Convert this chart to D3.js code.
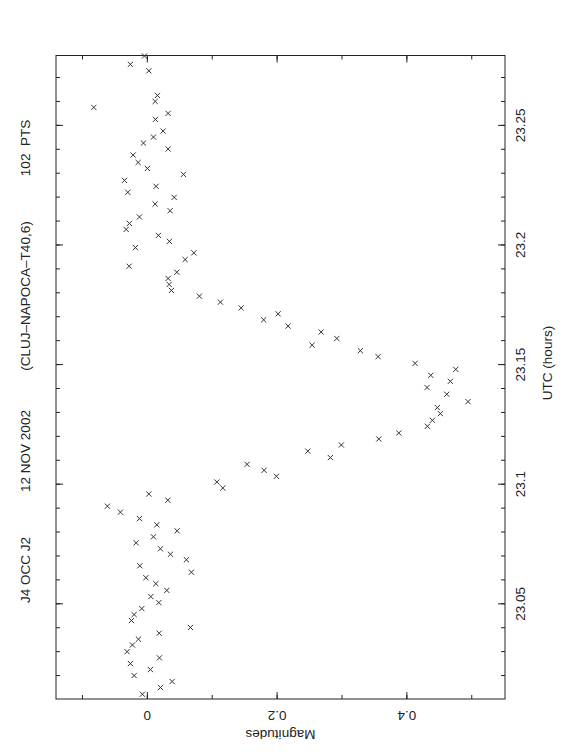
<!DOCTYPE html>
<html>
<head>
<meta charset="utf-8">
<script src="https://cdn.jsdelivr.net/npm/d3@7"></script>
<style>
  body { margin: 0; background: #fff; }
  text { font-family: "Liberation Sans", Arial, sans-serif; fill: #222; }
</style>
</head>
<body>
<script>
// J4 occultation light curve, 12 Nov 2002 (plot is drawn turned on its side)
var utc = [23.2788,23.2753,23.2726,23.2623,23.2598,23.2573,23.2548,23.2523,23.2474,23.2449,
           23.2424,23.2399,23.2374,23.2343,23.2318,23.2293,23.2268,23.2243,23.2218,23.2197,
           23.2169,23.2141,23.2115,23.2088,23.2063,23.2038,23.2013,23.1987,23.1965,23.1937,
           23.1909,23.1884,23.1858,23.1833,23.1808,23.1784,23.1759,23.1735,23.1710,23.1685,
           23.1659,23.1634,23.1607,23.1579,23.1556,23.1531,23.1503,23.1478,23.1453,23.1428,
           23.1402,23.1374,23.1343,23.1318,23.1293,23.1265,23.1240,23.1212,23.1187,23.1162,
           23.1136,23.1109,23.1081,23.1056,23.1031,23.1007,23.0982,23.0957,23.0931,23.0906,
           23.0881,23.0854,23.0828,23.0803,23.0778,23.0753,23.0728,23.0705,23.0682,23.0657,
           23.0630,23.0607,23.0582,23.0554,23.0528,23.0503,23.0478,23.0453,23.0428,23.0399,
           23.0375,23.0350,23.0326,23.0298,23.0272,23.0248,23.0223,23.0198,23.0173,23.0148,
           23.0120];
var mag = [-0.0037,-0.0253,0.0031,0.0163,0.0128,-0.0817,0.0328,0.0133,0.0251,0.0102,
           -0.0052,0.0328,-0.0211,-0.0134,0.0009,0.0564,-0.0345,0.0143,-0.0293,0.0421,
           0.0128,0.0359,-0.0114,-0.0268,-0.0319,0.0179,0.0348,-0.0176,0.0724,0.0590,
           -0.0273,0.0462,0.0328,0.0344,0.0379,0.0810,0.1134,0.1453,0.2023,0.1800,
           0.2177,0.2686,0.2928,0.2547,0.3291,0.3564,0.4134,0.4761,0.4376,0.4678,
           0.4319,0.4622,0.4951,0.4478,0.4524,0.4401,0.4324,0.3883,0.3575,0.2998,
           0.2481,0.2829,0.1545,0.1807,0.1997,0.1079,0.1171,0.0031,0.0324,-0.0607,
           -0.0407,-0.0114,0.0154,0.0467,0.0102,-0.0165,0.0210,0.0364,0.0610,-0.0108,
           0.0687,-0.0015,0.0139,0.0308,0.0062,0.0185,-0.0077,-0.0196,-0.0237,0.0672,
           0.0190,-0.0129,-0.0222,-0.0304,0.0194,-0.0253,0.0055,-0.0196,0.0390,0.0210,
           -0.0068];
var utcTicks = [23.05, 23.1, 23.15, 23.2, 23.25];
var magTicks = [0, 0.2, 0.4];
var titleParts = ["J4 OCC J2", "12 NOV 2002", "(CLUJ\u2013NAPOCA\u2013T40,6)", "102  PTS"];

var W = 562, H = 756;
var fL = 56, fR = 505, fT = 55.5, fB = 699;

var svg = d3.select("body").append("svg").attr("width", W).attr("height", H);

var x = d3.scaleLinear().domain([-0.14, 0.552]).range([fL, fR]);
var y = d3.scaleLinear().domain([23.01, 23.279]).range([fB, fT]);

var minorUtc = d3.range(23.02, 23.2795, 0.01);
var minorMag = d3.range(-0.1, 0.551, 0.1);

// right axis (labelled) + left mirror
var rAxis = svg.append("g").attr("transform", "translate(" + fR + ",0)")
    .call(d3.axisRight(y).tickValues(utcTicks).tickSize(-7).tickPadding(0).tickFormat(d3.format("")));
svg.append("g").attr("transform", "translate(" + fR + ",0)")
    .call(d3.axisRight(y).tickValues(minorUtc).tickSize(-4).tickFormat(""));
svg.append("g").attr("transform", "translate(" + fL + ",0)")
    .call(d3.axisLeft(y).tickValues(utcTicks).tickSize(-7).tickFormat(""));
svg.append("g").attr("transform", "translate(" + fL + ",0)")
    .call(d3.axisLeft(y).tickValues(minorUtc).tickSize(-4).tickFormat(""));

// bottom axis (labelled) + top mirror
var bAxis = svg.append("g").attr("transform", "translate(0," + fB + ")")
    .call(d3.axisBottom(x).tickValues(magTicks).tickSize(-7).tickPadding(0).tickFormat(d3.format("")));
svg.append("g").attr("transform", "translate(0," + fB + ")")
    .call(d3.axisBottom(x).tickValues(minorMag).tickSize(-4).tickFormat(""));
svg.append("g").attr("transform", "translate(0," + fT + ")")
    .call(d3.axisTop(x).tickValues(magTicks).tickSize(-7).tickFormat(""));
svg.append("g").attr("transform", "translate(0," + fT + ")")
    .call(d3.axisTop(x).tickValues(minorMag).tickSize(-4).tickFormat(""));

svg.selectAll(".domain").remove();
svg.selectAll(".tick line").attr("stroke", "#222");

rAxis.selectAll("text")
    .attr("x", 0).attr("y", 0).attr("dy", "0.35em")
    .attr("text-anchor", "middle")
    .attr("transform", "translate(15,0) rotate(-90)")
    .style("font-size", "13.5px");

bAxis.selectAll("text")
    .attr("x", 0).attr("y", 0).attr("dy", "0.35em")
    .attr("text-anchor", "middle")
    .attr("transform", "translate(0,17) rotate(180)")
    .style("font-size", "13.5px");

svg.append("rect")
    .attr("x", fL).attr("y", fT)
    .attr("width", fR - fL).attr("height", fB - fT)
    .attr("fill", "none").attr("stroke", "#222").attr("stroke-width", 1);

// axis titles
svg.append("text")
    .attr("transform", "translate(547,363) rotate(-90)")
    .attr("text-anchor", "middle").attr("dy", "0.35em")
    .style("font-size", "13.5px")
    .text("UTC (hours)");

svg.append("text")
    .attr("transform", "translate(" + ((fL + fR) / 2) + ",735) rotate(180)")
    .attr("text-anchor", "middle").attr("dy", "0.35em")
    .style("font-size", "13.5px")
    .text("Magnitudes");

// title pieces along the left edge
var titleY = [570, 451, 296, 148];
svg.selectAll("text.title")
    .data(titleParts)
    .enter().append("text")
    .attr("class", "title")
    .attr("transform", function(d, i) { return "translate(25," + titleY[i] + ") rotate(-90)"; })
    .attr("text-anchor", "middle").attr("dy", "0.35em")
    .style("font-size", "13.5px")
    .style("white-space", "pre")
    .text(function(d) { return d; });

// points as x marks
var s = 2.6;
svg.selectAll("path.pt")
    .data(utc)
    .enter().append("path")
    .attr("class", "pt")
    .attr("d", function(d, i) {
        var cx = x(mag[i]), cy = y(d);
        return "M" + (cx - s) + "," + (cy - s) + "L" + (cx + s) + "," + (cy + s) +
               "M" + (cx - s) + "," + (cy + s) + "L" + (cx + s) + "," + (cy - s);
    })
    .attr("stroke", "#333").attr("stroke-width", 1).attr("fill", "none");
</script>
</body>
</html>
